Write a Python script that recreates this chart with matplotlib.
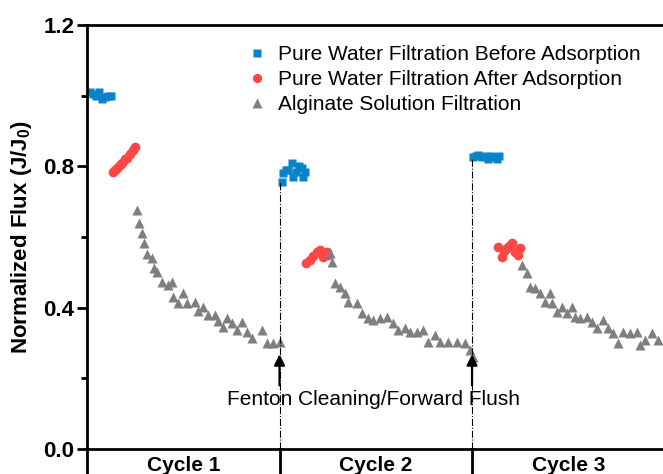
import matplotlib
matplotlib.use("Agg")
import matplotlib.pyplot as plt
from matplotlib.ticker import MultipleLocator

plt.rcParams['font.family'] = ['Liberation Sans', 'DejaVu Sans']
plt.rcParams['mathtext.fontset'] = 'custom'
plt.rcParams['mathtext.bf'] = 'Liberation Sans:bold'
plt.rcParams['mathtext.rm'] = 'Liberation Sans'

# filtration progress, 100 units per cycle
blue_x = [1.6, 3.1, 4.7, 6.2, 7.8, 9.4, 10.9, 12.5,
          101.1, 102.0, 103.4, 104.4, 106.3, 107.0, 108.6, 110.1, 111.5, 112.4, 113.2,
          200.7, 202.1, 203.1, 205.0, 206.8, 208.3, 209.9, 211.4, 212.9, 214.0]
blue_y = [1.01, 1.005, 1.00, 1.01, 0.99, 0.995, 1.00, 1.00,
          0.757, 0.781, 0.79, 0.79, 0.81, 0.77, 0.785, 0.80, 0.795, 0.77, 0.785,
          0.827, 0.83, 0.832, 0.826, 0.828, 0.822, 0.83, 0.826, 0.822, 0.828]

red_x = [13.5, 14.5, 15.6, 17.1, 18.2, 19.7, 20.8, 22.3, 23.9, 24.9,
         113.8, 115.8, 117.4, 119.3, 121.0, 122.6, 124.5, 125.2,
         213.5, 215.4, 216.6, 218.0, 219.2, 220.6, 222.3, 223.9, 225.0]
red_y = [0.785, 0.79, 0.795, 0.805, 0.81, 0.82, 0.825, 0.835, 0.845, 0.855,
         0.526, 0.535, 0.545, 0.558, 0.563, 0.543, 0.558, 0.549,
         0.573, 0.544, 0.56, 0.569, 0.575, 0.583, 0.558, 0.549, 0.569]

gray_x = [26.1, 27.2, 28.4, 29.6, 31.0, 33.6, 35.0, 36.5, 38.8, 42.2, 44.0, 44.8,
          47.4, 50.0, 52.1, 56.1, 57.8, 60.4, 63.0, 66.5, 68.2, 70.8, 72.6, 75.2,
          77.8, 80.4, 83.0, 85.6, 90.8, 93.4, 96.8, 100.3,
          126.2, 127.1, 128.8, 131.4, 134.0, 135.6, 140.1, 142.7, 146.0, 148.6,
          152.2, 155.7, 159.0, 161.6, 165.2, 167.8, 171.3, 174.5, 177.1, 180.8,
          183.4, 187.5, 192.0, 196.4, 199.0, 200.5,
          225.8, 228.4, 230.1, 232.7, 235.3, 237.9, 240.5, 241.4, 244.0, 246.6,
          249.2, 251.8, 253.5, 256.1, 259.6, 262.2, 264.8, 268.2, 270.6, 273.2,
          275.8, 278.4, 282.1, 285.6, 287.3, 289.9, 293.4, 296.6]
gray_y = [0.676, 0.640, 0.612, 0.583, 0.552, 0.540, 0.512, 0.501, 0.473, 0.464, 0.473, 0.430,
          0.413, 0.441, 0.413, 0.416, 0.391, 0.402, 0.379, 0.379, 0.362, 0.345, 0.371, 0.357,
          0.337, 0.360, 0.331, 0.314, 0.337, 0.300, 0.300, 0.303,
          0.555, 0.530, 0.470, 0.459, 0.441, 0.416, 0.413, 0.385, 0.371, 0.365,
          0.371, 0.374, 0.357, 0.337, 0.342, 0.331, 0.331, 0.337, 0.303, 0.323,
          0.303, 0.303, 0.303, 0.300, 0.280, 0.260,
          0.521, 0.498, 0.459, 0.456, 0.441, 0.417, 0.441, 0.413, 0.389, 0.403,
          0.385, 0.403, 0.374, 0.371, 0.374, 0.360, 0.342, 0.365, 0.342, 0.328,
          0.300, 0.332, 0.328, 0.332, 0.294, 0.309, 0.328, 0.309]

cycle_edges = [100, 200]
cycle_tops = [0.755, 0.825]
cycle_labels = ['Cycle 1', 'Cycle 2', 'Cycle 3']
cycle_centers = [50, 150, 250]

fig = plt.figure(figsize=(6.63, 4.74), dpi=100)
ax = fig.add_axes([87 / 663, 25 / 474, 576 / 663, 424 / 474])

ax.plot(blue_x, blue_y, 's', color='#0882c8', ms=6, mec='none',
        label='Pure Water Filtration Before Adsorption', clip_on=False)
ax.plot(red_x, red_y, 'o', color='#ff4646', ms=7, mec='none',
        label='Pure Water Filtration After Adsorption')
ax.plot(gray_x, gray_y, '^', color='#7f7f7f', ms=7.5, mec='none',
        label='Alginate Solution Filtration')

for xe, top in zip(cycle_edges, cycle_tops):
    ax.plot([xe, xe], [0, top], color='k', ls='-.', lw=0.8, zorder=4)
    ax.annotate('', xy=(xe, 0.268), xytext=(xe, 0.18),
                arrowprops=dict(arrowstyle='-|>', color='k', lw=1.6,
                                mutation_scale=16, shrinkA=0, shrinkB=0),
                zorder=5)

ax.text(149, 0.14, 'Fenton Cleaning/Forward Flush', ha='center', va='center',
        fontsize=15)

# cycle band under the axis
for xe in [0] + cycle_edges:
    ax.plot([xe, xe], [0, -0.1], color='k', lw=2, clip_on=False)
for xc, lab in zip(cycle_centers, cycle_labels):
    ax.text(xc, -0.048, lab, ha='center', va='center', fontsize=15,
            fontweight='bold', clip_on=False)

ax.set_xlim(0, 299.2)
ax.set_ylim(0, 1.2)
ax.set_xticks([])
ax.yaxis.set_minor_locator(MultipleLocator(0.2))
ax.set_yticks([0, 0.4, 0.8, 1.2])
ax.set_yticklabels(['0.0', '0.4', '0.8', '1.2'])
ax.tick_params(axis='y', which='major', direction='out', length=7, width=2,
               labelsize=16, pad=2)
ax.tick_params(axis='y', which='minor', direction='out', length=4, width=2)
for lab in ax.get_yticklabels():
    lab.set_fontweight('bold')

for side in ['left', 'bottom', 'top']:
    ax.spines[side].set_linewidth(2)
ax.spines['right'].set_visible(False)

ax.set_ylabel(r'Normalized Flux (J/J$_\mathbf{0}$)', fontsize=16,
              fontweight='bold', labelpad=7)

ax.legend(loc='upper left', bbox_to_anchor=(0.277, 0.953), frameon=False,
          fontsize=15, handlelength=1.0, handletextpad=0.51, labelspacing=0.3,
          borderaxespad=0, borderpad=0, markerscale=0.95)

fig.savefig('out.png', dpi=100)
